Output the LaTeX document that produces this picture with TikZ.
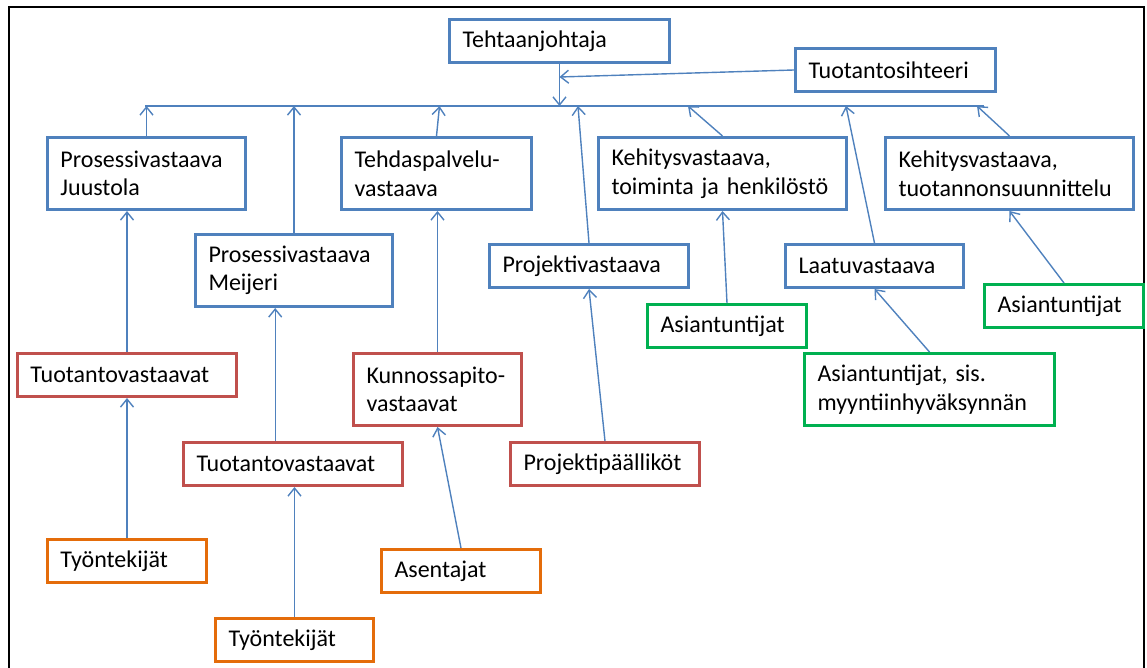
\documentclass[tikz,border=0pt]{standalone}
\usepackage{fontspec}
\setmainfont{Carlito}
\usetikzlibrary{arrows.meta,calc}
\definecolor{orgblue}{HTML}{4F81BD}
\definecolor{orgred}{HTML}{C0504D}
\definecolor{orggreen}{HTML}{00B050}
\definecolor{orgorange}{HTML}{E46C0A}

\begin{document}
\begin{tikzpicture}[x=0.5pt, y=-0.5pt,
  box/.style={draw, line width=1.5pt, anchor=north west, align=left, inner xsep=6.5pt, inner ysep=2pt, font=\fontsize{12}{14.3}\selectfont},
  bluebox/.style={box, draw=orgblue},
  redbox/.style={box, draw=orgred},
  greenbox/.style={box, draw=orggreen},
  orangebox/.style={box, draw=orgorange},
  row1/.style={minimum height=21.5pt},
  row2/.style={minimum height=36pt},
  bus/.style={draw=orgblue, line width=0.7pt},
  link/.style={bus, -{Straight Barb[length=4pt,width=6.5pt]}}]
\useasboundingbox (0,0) rectangle (1147,668);
\clip (0,0) rectangle (1147,668);
\draw[line width=1pt] (9,690) |- (1144,7) -- (1144,690);

\node[bluebox,row1,text width=97pt](tj) at (448,18){Tehtaanjohtaja};
\node[bluebox,row1,text width=87pt](ts) at (794,47){Tuotantosihteeri};
\node[bluebox,row2,text width=86pt](pvj) at (46,136){Prosessivastaava\\Juustola};
\node[bluebox,row2,text width=82pt](tpv) at (340,136){Tehdaspalvelu-\\vastaava};
\node[bluebox,row2,text width=111pt](kv1) at (597,136){Kehitysvastaava,\\toiminta ja henkilöstö};
\node[bluebox,row2,text width=111pt](kv2) at (884,136){Kehitysvastaava,\\tuotannonsuunnittelu};
\node[bluebox,row2,text width=85.5pt](pvm) at (194,233){Prosessivastaava\\Meijeri};
\node[bluebox,row1,text width=86.5pt](pjv) at (488,243){Projektivastaava};
\node[bluebox,row1,text width=76pt](lv) at (784,243){Laatuvastaava};
\node[greenbox,row1,text width=66.5pt](as1) at (646,303){Asiantuntijat};
\node[greenbox,row1,text width=66.5pt](as2) at (983,283){Asiantuntijat};
\node[redbox,row1,text width=96.5pt](tv1) at (16,352){Tuotantovastaavat};
\node[redbox,row2,text width=71pt](kpv) at (352,352){Kunnossapito-\\vastaavat};
\node[redbox,row1,text width=96.5pt](tv2) at (182,441){Tuotantovastaavat};
\node[redbox,row1,text width=81.5pt](ppl) at (509,441){Projektipäälliköt};
\node[greenbox,row2,text width=112pt](ass) at (803,352){Asiantuntijat, sis.\\myyntiinhyväksynnän};
\node[orangebox,row1,text width=66.5pt](tt1) at (46,538){Työntekijät};
\node[orangebox,row1,text width=66.5pt](ase) at (380,548){Asentajat};
\node[orangebox,row1,text width=66pt](tt2) at (214,617){Työntekijät};

% bus line under the head
\coordinate (busL) at (145,106);
\coordinate (busR) at (984,106);
\coordinate (tsin) at (559.5,77);
\draw[bus] (busL) -- (busR);
\draw[link] (tj.south) -- (tj.south |- busL);
\draw[link] (ts.west) -- (tsin);
\draw[link] (pvj.north) -- (pvj.north |- busL);
\draw[link] (pvm.north) -- (pvm.north |- busL);
\foreach \n/\x in {tpv/439.5, pjv/578, kv1/688, lv/846, kv2/977}{
  \coordinate (b\n) at (\x,106);
  \draw[link] (\n.north) -- (b\n);
}

% lower levels
\draw[link] (tv1.north) -- (tv1.north |- pvj.south);
\draw[link] (tt1.north) -- (tv1.south);
\draw[link] ([xshift=-8.9pt]tv2.north) -- ([xshift=-8.9pt]tv2.north |- pvm.south);
\draw[link] (tt2.north) -- (tt2.north |- tv2.south);
\draw[link] (kpv.north) -- (kpv.north |- tpv.south);
\draw[link] (ase.north) -- (kpv.south);
\draw[link] (ppl.north) -- (pjv.south);
\draw[link] (as1.north) -- (kv1.south);
\draw[link] (ass.north) -- (lv.south);
\draw[link] (as2.north) -- (kv2.south);
\end{tikzpicture}
\end{document}
